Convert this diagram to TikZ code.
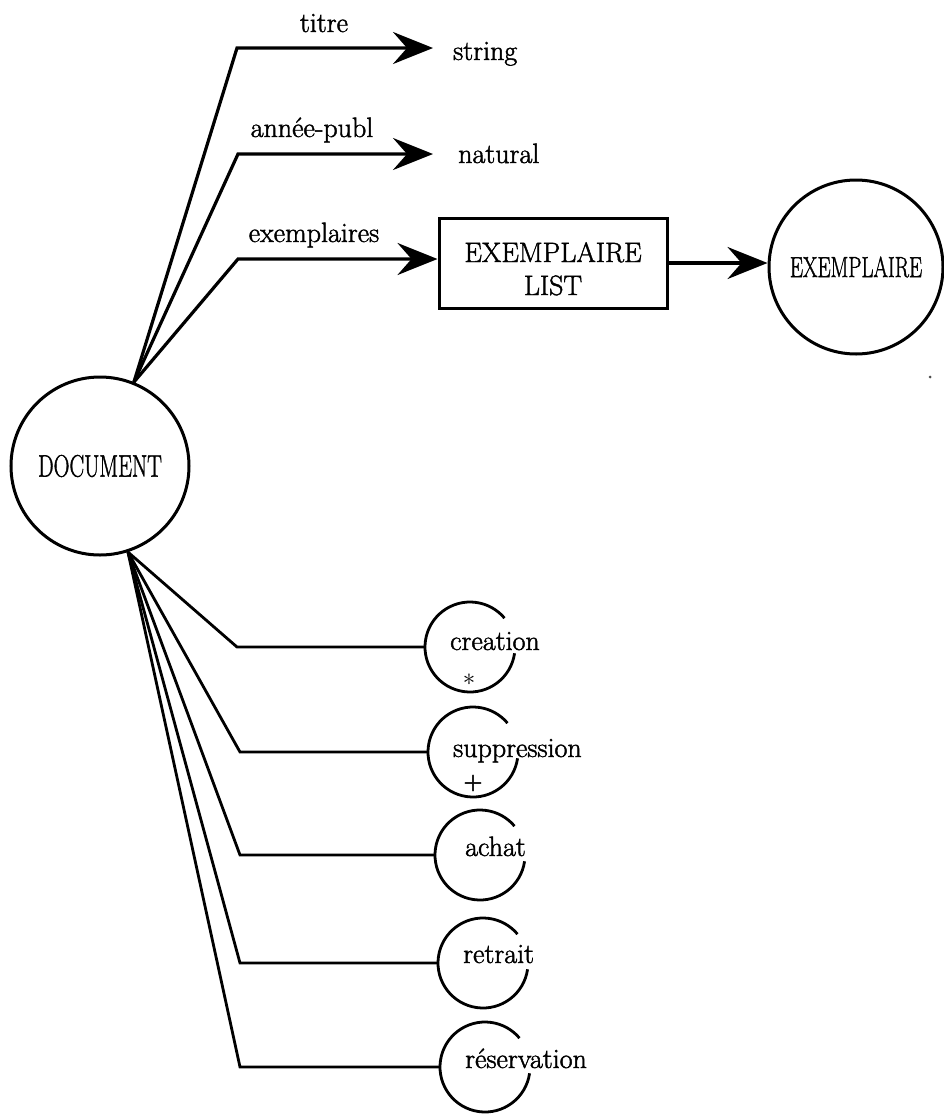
\documentclass[tikz,border=0pt]{standalone}
\usepackage{graphicx}
\usepackage{fontspec}
\setmainfont{Latin Modern Roman}[FakeBold=1.6]
\usetikzlibrary{arrows.meta}
\begin{document}
\begin{tikzpicture}[x=1pt,y=-1pt,
  big/.style={font=\fontsize{28}{33}\selectfont},
  lbl/.style={big, inner sep=0pt},
  link/.style={line width=3.2pt, line join=miter},
  evlink/.style={line width=2.8pt},
  arr/.style={link, -{Stealth[length=40pt,width=32pt,inset=14pt]}},
  entity/.style={draw, circle, line width=3pt, inner sep=0pt},
  evarc/.style={line width=2.8pt},
  evsign/.style={inner sep=0pt},
]
\useasboundingbox (0,0) rectangle (944,1114);

% main entity
\node[entity, minimum size=178pt] (doc) at (100,466)
  {\fontsize{31}{33}\selectfont\scalebox{0.71}[1]{DOCUMENT}};

% attributes
\node[lbl, anchor=base] (titreL) at (324,32) {titre};
\node[lbl, anchor=base] (anneeL) at (312,137) {année-publ};
\node[lbl, anchor=base] (exL) at (314,242) {exemplaires};
\node[lbl, anchor=base west, inner xsep=20pt] (string) at (433,60) {string};
\node[lbl, anchor=base west, inner xsep=25pt] (natural) at (433,163) {natural};

% list type box
\node[draw, line width=3pt, minimum width=228pt, minimum height=90pt]
      (list) at (553,263) {};
\node[lbl, anchor=base] (listA) at (553,262) {EXEMPLAIRE};
\node[lbl, anchor=base] (listB) at (553,295) {LIST};

\node[entity, minimum size=174pt] (ex) at (856,267)
  {\fontsize{29}{33}\selectfont\scalebox{0.72}[1]{EXEMPLAIRE}};

\coordinate (b1) at (237,48);
\coordinate (b2) at (238,154);
\coordinate (b3) at (238,259);
\draw[arr] (doc.68) -- (b1) -- (b1 -| string.west);
\draw[arr] (doc.68) -- (b2) -- (b2 -| natural.west);
\draw[arr] (doc.68) -- (b3) -- (b3 -| list.west);
\draw[arr] (list.east) -- (list.east -| ex.west);

% events
\coordinate (cCrea) at (470,647);
\coordinate (cSupp) at (473,752);
\coordinate (cAchat) at (480,855);
\coordinate (cRetr) at (483,963);
\coordinate (cRes) at (485,1067);

\foreach \c in {cCrea,cSupp,cAchat,cRetr,cRes}{
  \draw[evarc] ([shift={(8:45)}]\c) arc[start angle=8, end angle=320, radius=45];
}

\node[lbl, anchor=base west] (creation) at (450,650) {creation};
\node[lbl, anchor=base west] (suppression) at (453,757) {suppression};
\node[lbl, anchor=base west] (achat) at (465,856) {achat};
\node[lbl, anchor=base west] (retrait) at (463,963) {retrait};
\node[lbl, anchor=base west] (reservation) at (465,1068) {réservation};

\node[evsign, font=\fontsize{26}{26}\selectfont] (star) at (469,680) {$\ast$};
\node[evsign, font=\fontsize{22}{22}\selectfont] (plus) at (473,783) {\textbf{+}};

\coordinate (k1) at (237,647);
\coordinate (k2) at (240,752);
\coordinate (k3) at (240,855);
\coordinate (k4) at (240,963);
\coordinate (k5) at (240,1067);
\draw[evlink] (doc.-72) -- (k1) -- ([xshift=-45pt]cCrea);
\draw[evlink] (doc.-72) -- (k2) -- ([xshift=-45pt]cSupp);
\draw[evlink] (doc.-72) -- (k3) -- ([xshift=-45pt]cAchat);
\draw[evlink] (doc.-72) -- (k4) -- ([xshift=-45pt]cRetr);
\draw[evlink] (doc.-72) -- (k5) -- ([xshift=-45pt]cRes);

% speck near the right entity
\fill[black!70] (930,377) circle[radius=1.5];
\end{tikzpicture}
\end{document}
